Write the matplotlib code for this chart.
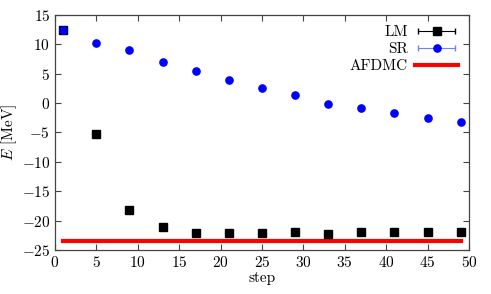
import numpy as np
import matplotlib
matplotlib.use("Agg")
import matplotlib.pyplot as plt
from matplotlib.legend_handler import HandlerErrorbar
from matplotlib.container import ErrorbarContainer

# data
steps = [1, 5, 9, 13, 17, 21, 25, 29, 33, 37, 41, 45, 49]
lm_energy = [12.5, -5.3, -18.2, -21.1, -22.1, -22.1, -22.1, -22.0, -22.3, -22.0, -22.0, -22.0, -22.0]
sr_energy = [12.5, 10.2, 9.1, 7.0, 5.45, 3.95, 2.65, 1.4, -0.1, -0.85, -1.7, -2.5, -3.3]
afdmc_steps = [1, 49]
afdmc_energy = [-23.5, -23.5]

plt.rcParams['font.family'] = 'serif'
plt.rcParams['font.serif'] = ['cmr10']
plt.rcParams['mathtext.fontset'] = 'cm'
plt.rcParams['axes.formatter.use_mathtext'] = True
plt.rcParams['axes.unicode_minus'] = True

fig = plt.figure(figsize=(4.91, 2.94), dpi=100)
ax = fig.add_axes([0.112, 0.150, 0.843, 0.799])

ax.plot(afdmc_steps, afdmc_energy, color='red', lw=3, label='AFDMC', zorder=2)
ax.errorbar(steps, lm_energy, xerr=np.zeros(len(steps)), fmt='s', color='black',
            ms=5.2, ecolor='black', elinewidth=0.8, capsize=2.4, label='LM', zorder=3)
ax.errorbar(steps, sr_energy, xerr=np.zeros(len(steps)), fmt='o', color='#0000ff',
            ms=5.2, ecolor='#7080ff', elinewidth=0.8, capsize=2.4, label='SR', zorder=4)

ax.set_xlim(0, 50)
ax.set_ylim(-25, 15)
ax.set_xticks(np.arange(0, 51, 5))
ax.set_yticks(np.arange(-25, 16, 5))
ax.tick_params(direction='in', top=True, right=True, labelsize=11, length=4, color='#444444')
for s in ax.spines.values():
    s.set_color('#444444')
    s.set_linewidth(0.9)

ax.set_xlabel('step', fontsize=11, labelpad=1)
ax.set_ylabel('$E$ [MeV]', fontsize=11, labelpad=2)

handles, labels = ax.get_legend_handles_labels()
order = [labels.index('LM'), labels.index('SR'), labels.index('AFDMC')]
ax.legend([handles[i] for i in order], [labels[i] for i in order],
          loc='upper right', frameon=False, markerfirst=False, fontsize=11,
          handlelength=2.8, borderaxespad=0.3, labelspacing=0.2, handletextpad=0.5,
          handler_map={ErrorbarContainer: HandlerErrorbar(xerr_size=1.2)})

fig.savefig('out.png', dpi=100)
